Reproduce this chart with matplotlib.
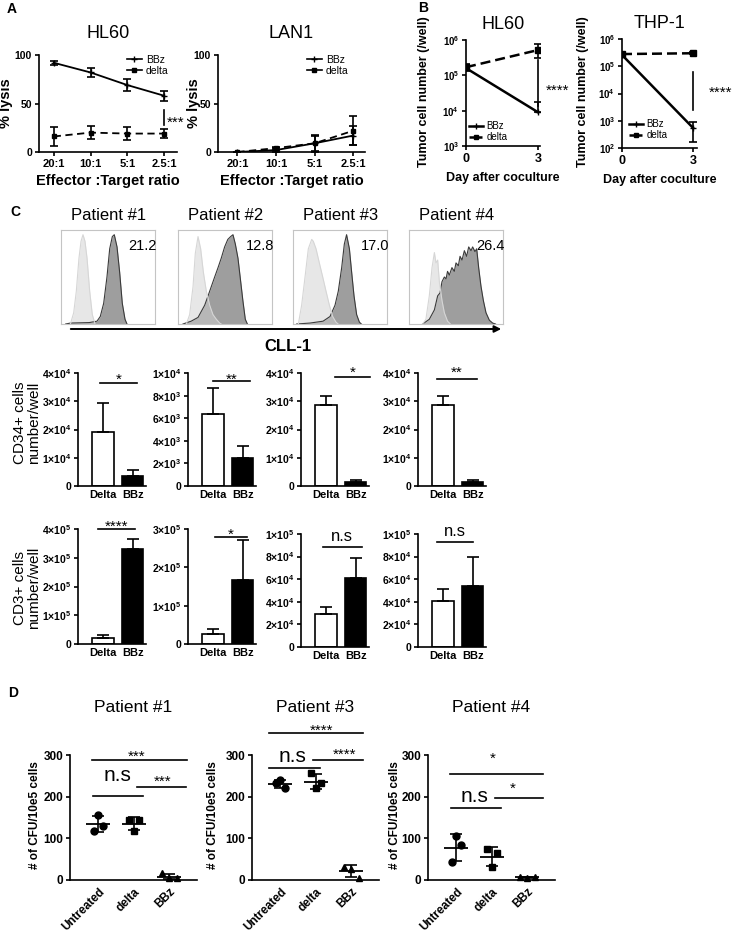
import numpy as np
import matplotlib
matplotlib.use("Agg")
import matplotlib.pyplot as plt
from matplotlib.lines import Line2D
from matplotlib.patches import FancyArrowPatch

plt.rcParams["font.family"] = ["Liberation Sans", "DejaVu Sans"]
plt.rcParams["mathtext.fontset"] = "custom"
plt.rcParams["mathtext.rm"] = "Liberation Sans:bold"
plt.rcParams["mathtext.bf"] = "Liberation Sans:bold"
plt.rcParams["axes.linewidth"] = 1.2
for a in ("xtick", "ytick"):
    plt.rcParams[a + ".major.width"] = 1.2
    plt.rcParams[a + ".major.size"] = 3
    plt.rcParams[a + ".major.pad"] = 2

# --- A: % lysis vs E:T ratio ---
ratios = ["20:1", "10:1", "5:1", "2.5:1"]
hl60_bbz = [92, 82, 69, 58]
hl60_bbz_err = [2, 5, 6, 5]
hl60_delta = [16, 20, 19, 19]
hl60_delta_err = [10, 7, 7, 5]
lan1_bbz = [0, 2, 9, 17]
lan1_bbz_err = [0.5, 2, 8, 10]
lan1_delta = [0, 4, 9, 22]
lan1_delta_err = [0.5, 1.5, 9, 15]

# --- B: tumor cells per well (log) ---
days = [0, 3]
b_hl60_bbz = [1.6e5, 9e3]
b_hl60_bbz_lo = [1.4e5, 9e3]
b_hl60_bbz_hi = [1.9e5, 1.8e4]
b_hl60_delta = [1.7e5, 5.2e5]
b_hl60_delta_lo = [1.3e5, 3.0e5]
b_hl60_delta_hi = [2.1e5, 7.5e5]
b_thp1_bbz = [2.6e5, 5.5e2]
b_thp1_bbz_lo = [2.3e5, 1.7e2]
b_thp1_bbz_hi = [2.9e5, 9.0e2]
b_thp1_delta = [2.8e5, 3.0e5]
b_thp1_delta_lo = [2.6e5, 2.8e5]
b_thp1_delta_hi = [3.0e5, 3.2e5]

# --- C: CLL-1 histograms (x, height in % of box) ---
patients = ["Patient #1", "Patient #2", "Patient #3", "Patient #4"]
cll1_pct = ["21.2", "12.8", "17.0", "26.4"]
p1_ctrl_x = [10, 13.5, 16.3, 19.1, 21.3, 23.4, 25.5, 27.7, 30.5, 33.3, 36.2]
p1_ctrl_y = [0, 12, 35, 70, 88, 95, 88, 70, 35, 10, 0]
p1_cll_x = [5, 10, 30, 38.3, 41.8, 45.4, 48.9, 51.8, 54.6, 56.7, 59.6, 62.4, 65.2, 68.1, 70.2]
p1_cll_y = [0, 1, 1.5, 3, 8, 22, 50, 80, 93, 95, 82, 55, 22, 5, 0]
p2_ctrl_x = [8.9, 12.4, 16, 18.4, 21.3, 24.1, 27, 30.1, 33.7, 37.2, 40.8, 44.3, 46]
p2_ctrl_y = [0, 10, 40, 75, 93, 80, 55, 35, 20, 10, 5, 1, 0]
p2_cll_x = [5.3, 14, 21.3, 28.4, 32, 35.5, 39, 42.6, 46, 49.6, 53, 56, 58.5, 61, 63.8, 66.7, 69, 71.6, 73.8]
p2_cll_y = [0, 3, 7, 20, 30, 40, 50, 60, 70, 82, 90, 93, 95, 85, 70, 45, 25, 5, 0]
p3_ctrl_x = [5.7, 9.2, 12.8, 16.3, 19.9, 21.6, 24.5, 28, 31.6, 35.1, 38.7, 42.2, 45.7, 48]
p3_ctrl_y = [0, 20, 50, 80, 90, 88, 80, 65, 50, 35, 20, 8, 2, 0]
p3_cll_x = [3.9, 18, 32, 39.4, 44.7, 48.2, 51.8, 54.6, 57, 60, 62.4, 64.9, 67.7, 70.6, 72.7]
p3_cll_y = [0, 1, 3, 8, 20, 35, 60, 85, 95, 80, 55, 30, 10, 2, 0]
p4_ctrl_x = [14.5, 18, 21.6, 24.5, 27, 28.7, 30.5, 32.3, 35.1, 37.6, 41, 44]
p4_ctrl_y = [0, 5, 30, 60, 76, 65, 68, 45, 25, 12, 3, 0]
p4_cll_x = [14.5, 21.6, 27, 30.5, 33, 35.1, 37.6, 39.4, 41, 42.9, 45.7, 48.2, 50, 52.5, 54.3,
            56.4, 58.9, 61.3, 63.5, 66, 67.7, 70.2, 72, 74.1, 76.6, 79.1, 81.9, 85.5, 89, 92]
p4_cll_y = [0, 5, 15, 30, 33, 45, 50, 48, 56, 52, 60, 56, 65, 62, 72,
            68, 78, 72, 82, 78, 82, 77, 80, 60, 40, 25, 12, 4, 1, 0]

# --- C: cell counts ---
bar_groups = ["Delta", "BBz"]
cd34_delta = [1.9e4, 6.4e3, 2.85e4, 2.85e4]
cd34_delta_err = [1.03e4, 2.3e3, 3.5e3, 3.5e3]
cd34_bbz = [3.4e3, 2.45e3, 1.3e3, 1.3e3]
cd34_bbz_err = [2.2e3, 1.05e3, 0.8e3, 0.8e3]
cd34_ymax = [4e4, 1e4, 4e4, 4e4]
cd34_step = [1e4, 2e3, 1e4, 1e4]
cd34_sig = ["*", "**", "*", "**"]
cd3_delta = [2.0e4, 2.7e4, 2.9e4, 4.1e4]
cd3_delta_err = [1.0e4, 1.2e4, 0.65e4, 1.0e4]
cd3_bbz = [3.3e5, 1.67e5, 6.1e4, 5.4e4]
cd3_bbz_err = [0.35e5, 1.05e5, 1.75e4, 2.55e4]
cd3_ymax = [4e5, 3e5, 1e5, 1e5]
cd3_step = [1e5, 1e5, 2e4, 2e4]
cd3_sig = ["****", "*", "n.s", "n.s"]

# --- D: CFU per 1e5 cells ---
d_groups = ["Untreated", "delta", "BBz"]
d_titles = ["Patient #1", "Patient #3", "Patient #4"]
d1_untreated = [155, 130, 118]
d1_delta = [144, 144, 118]
d1_bbz = [16, 4, 5]
d3_untreated = [240, 221, 232]
d3_delta = [256, 232, 221]
d3_bbz = [32, 27, 5]
d4_untreated = [106, 83, 43]
d4_delta = [74, 64, 31]
d4_bbz = [8, 6, 7]

# significance annotations: (x0, x1, line y, label centre y) / (..., label, label x, label y)
cd34_ann = [(-0.1, 1.14, 3.65e4, 3.93e4), (0.0, 1.24, 9.3e3, 9.8e3),
            (0.3, 1.48, 3.86e4, 4.18e4), (-0.21, 1.14, 3.8e4, 4.18e4)]
cd3_ann = [(-0.17, 1.08, 4.0e5, 4.24e5), (0.06, 1.14, 2.79e5, 2.97e5),
           (-0.11, 1.21, 8.85e4, 9.73e4), (-0.21, 1.01, 9.3e4, 1.02e5)]
d1_ann = [(-0.18, 2.5, 288, "***", 1.09, 307), (1.09, 2.47, 223, "***", 1.82, 247),
          (-0.15, 1.26, 202, "n.s", 0.55, 250)]
d3_ann = [(-0.32, 2.33, 352, "****", 1.17, 370), (0.92, 2.33, 288, "****", 1.82, 312),
          (-0.32, 1.12, 268, "n.s", 0.35, 295)]
d4_ann = [(-0.18, 2.44, 254, "*", 1.03, 302), (1.09, 2.44, 196, "*", 1.59, 231),
          (-0.15, 1.26, 172, "n.s", 0.52, 200)]

W, H = 732, 932
fig = plt.figure(figsize=(W / 100, H / 100), dpi=100)


def box(l, t, r, b):
    ax = fig.add_axes([l / W, 1 - b / H, (r - l) / W, (b - t) / H])
    ax.spines["top"].set_visible(False)
    ax.spines["right"].set_visible(False)
    return ax


def ftext(x, y, s, **kw):
    fig.text(x / W, 1 - y / H, s, **kw)


def sig_text(ax, x, yc, s, fs):
    # place so the glyphs (not the text box) are centred on yc
    shift = 0.58 * fs if "*" in s else 0.26 * fs
    ax.annotate(s, xy=(x, yc), xytext=(0, -shift), textcoords="offset points",
                ha="center", va="baseline", fontsize=fs, annotation_clip=False)


def legend(ax, handles, labels, x, y, fs):
    ax.legend(handles, labels, loc="upper left", bbox_to_anchor=(x / W, 1 - y / H),
              bbox_transform=fig.transFigure, frameon=False, fontsize=fs, borderpad=0,
              borderaxespad=0, handlelength=1.4, handletextpad=0.4, labelspacing=0.1)


def sci(v):
    if v == 0:
        return "0"
    e = int(np.floor(np.log10(v) + 1e-9))
    return r"$\mathbf{%d{\times}10^{%d}}$" % (round(v / 10 ** e), e)


# ---------------- Panel A ----------------
ftext(12, 9, "A", fontsize=10, fontweight="bold", va="center", ha="center")
ek = dict(color="k", lw=1.3, capsize=3, capthick=1.2, elinewidth=1.2)
h_bbz = Line2D([], [], color="k", lw=1.2, marker="+", ms=5)
h_del = Line2D([], [], color="k", lw=1.2, marker="s", ms=3.5)
a_specs = [("HL60", (39, 55, 177, 152), hl60_bbz, hl60_bbz_err, hl60_delta, hl60_delta_err,
            (-0.4, 3.35), 6, (127, 55)),
           ("LAN1", (218, 55, 365, 152), lan1_bbz, lan1_bbz_err, lan1_delta, lan1_delta_err,
            (-0.5, 3.3), 194, (307, 55))]
for title, rc, bb, bbe, dl, dle, xl, ylx, lg in a_specs:
    ax = box(*rc)
    x = np.arange(len(ratios))
    ax.errorbar(x, bb, yerr=bbe, marker="+", ms=5, **ek)
    ax.errorbar(x, dl, yerr=dle, marker="s", ms=3.5, ls=(0, (4, 2.5)), **ek)
    ax.set_xlim(*xl)
    ax.set_ylim(0, 100)
    ax.set_xticks(x, ratios, fontweight="bold", fontsize=8)
    ax.set_yticks([0, 50, 100], ["0", "50", "100"], fontweight="bold", fontsize=7.5)
    ax.set_title(title, fontsize=13, pad=12)
    ax.set_xlabel("Effector :Target ratio", fontsize=10.5, fontweight="bold", labelpad=4)
    ftext(ylx, 103, "% lysis", rotation=90, fontsize=10.5, fontweight="bold",
          ha="center", va="center")
    legend(ax, [h_bbz, h_del], ["BBz", "delta"], lg[0], lg[1], 7.5)
    if title == "HL60":
        ax.plot([3, 3], [28, 43], color="k", lw=1.2)
        sig_text(ax, 3.3, 35, "***", 11)

# ---------------- Panel B ----------------
ftext(423, 8, "B", fontsize=10, fontweight="bold", va="center", ha="center")
hb_bbz = Line2D([], [], color="k", lw=1.8, marker="+", ms=5)
hb_del = Line2D([], [], color="k", lw=1.8, ls=(0, (2, 1.2)), marker="s", ms=3.5)
b_specs = [("HL60", (466, 40, 540, 146), (1e3, 1e6), 3.08,
            b_hl60_bbz, b_hl60_bbz_lo, b_hl60_bbz_hi,
            b_hl60_delta, b_hl60_delta_lo, b_hl60_delta_hi,
            (1.4e4, 2.7e5), (3.79, 10 ** 4.7), 424, (469, 121)),
           ("THP-1", (622, 39, 697, 148), (1e2, 1e6), 3.17,
            b_thp1_bbz, b_thp1_bbz_lo, b_thp1_bbz_hi,
            b_thp1_delta, b_thp1_delta_lo, b_thp1_delta_hi,
            (2.5e3, 6e4), (4.15, 10 ** 4.2), 583, (629, 119))]
for (title, rc, yl, xr, bb, bblo, bbhi, dl, dllo, dlhi, sl, st, ylx, lg) in b_specs:
    ax = box(*rc)
    ax.set_yscale("log")
    bbe = [np.subtract(bb, bblo), np.subtract(bbhi, bb)]
    dle = [np.subtract(dl, dllo), np.subtract(dlhi, dl)]
    ax.errorbar(days, bb, yerr=bbe, color="k", lw=1.8, marker="+", ms=5,
                capsize=3, capthick=1.2, elinewidth=1.2)
    ax.errorbar(days, dl, yerr=dle, color="k", lw=1.8, ls=(0, (4, 2)), marker="s", ms=4,
                capsize=3, capthick=1.2, elinewidth=1.2)
    ax.set_ylim(*yl)
    ax.set_xlim(0, xr)
    dec = np.arange(int(np.log10(yl[0])), int(np.log10(yl[1])) + 1)
    ax.set_yticks(10.0 ** dec, [r"$\mathbf{10^{%d}}$" % d for d in dec], fontsize=7)
    ax.minorticks_off()
    ax.set_xticks(days, [str(d) for d in days], fontweight="bold", fontsize=9)
    ax.set_title(title, fontsize=13, pad=8)
    ax.set_xlabel("Day after coculture", fontsize=9, fontweight="bold", labelpad=5)
    ftext(ylx, 92, "Tumor cell number (/well)", rotation=90, fontsize=9, fontweight="bold",
          ha="center", va="center")
    ax.plot([3, 3], sl, color="k", lw=1.2, clip_on=False)
    sig_text(ax, st[0], st[1], "****", 11)
    legend(ax, [hb_bbz, hb_del], ["BBz", "delta"], lg[0], lg[1], 7)

# ---------------- Panel C: histograms ----------------
ftext(15, 212, "C", fontsize=10, fontweight="bold", va="center", ha="center")
hist_lefts = [61, 178, 293, 409]
ctrl_curves = [(p1_ctrl_x, p1_ctrl_y), (p2_ctrl_x, p2_ctrl_y), (p3_ctrl_x, p3_ctrl_y), (p4_ctrl_x, p4_ctrl_y)]
cll_curves = [(p1_cll_x, p1_cll_y), (p2_cll_x, p2_cll_y), (p3_cll_x, p3_cll_y), (p4_cll_x, p4_cll_y)]
for i, l in enumerate(hist_lefts):
    ax = fig.add_axes([l / W, 1 - 324 / H, 94 / W, 94 / H])
    cx, cy = cll_curves[i]
    kx, ky = ctrl_curves[i]
    ax.fill_between(cx, cy, color="#9e9e9e", lw=0)
    ax.plot(cx, cy, color="#3a3a3a", lw=0.8)
    ax.fill_between(kx, ky, color="#d0d0d0", alpha=0.5, lw=0)
    ax.plot(kx, ky, color="#d6d6d6", lw=0.8)
    ax.set_xlim(0, 100)
    ax.set_ylim(0, 100)
    ax.set_xticks([])
    ax.set_yticks([])
    for s in ax.spines.values():
        s.set_color("#c4c4c4")
        s.set_linewidth(0.8)
    ax.text(1.02, 0.83, cll1_pct[i], transform=ax.transAxes, ha="right", va="center",
            fontsize=10.5)
    ftext(l + 48, 215, patients[i], fontsize=12, ha="center", va="center")

fig.add_artist(FancyArrowPatch((68 / W, 1 - 329 / H), (504 / W, 1 - 329 / H),
                               transform=fig.transFigure, arrowstyle="-|>",
                               mutation_scale=10, color="k", lw=1.4))
ftext(288, 347, "CLL-1", fontsize=12, fontweight="bold", ha="center", va="center")

# ---------------- Panel C: bars ----------------
bar_lefts = [78, 188, 301, 418]
rows = [(cd34_delta, cd34_delta_err, cd34_bbz, cd34_bbz_err, cd34_ymax, cd34_step, cd34_sig,
         cd34_ann, [(373, 486)] * 4, "CD34+ cells\nnumber/well", 423),
        (cd3_delta, cd3_delta_err, cd3_bbz, cd3_bbz_err, cd3_ymax, cd3_step, cd3_sig,
         cd3_ann, [(529, 644), (529, 644), (534, 647), (534, 647)], "CD3+ cells\nnumber/well", 588)]
for (dv, de, bv, be, ymax, step, sig, ann, tb, ylab, ylc) in rows:
    for i, l in enumerate(bar_lefts):
        ax = box(l, tb[i][0], l + 68, tb[i][1])
        x = np.arange(2)
        ax.bar(x, [dv[i], bv[i]], width=0.72, color=["white", "black"], edgecolor="k",
               lw=1.2, zorder=2)
        ax.errorbar(x, [dv[i], bv[i]], yerr=[[0, 0], [de[i], be[i]]], fmt="none",
                    ecolor="k", elinewidth=1.2, capsize=4.5, capthick=1.2, zorder=3)
        ax.set_xlim(-0.85, 1.45)
        ax.set_ylim(0, ymax[i])
        ticks = np.arange(0, ymax[i] + step[i] / 2, step[i])
        ax.set_yticks(ticks, [sci(t) for t in ticks], fontsize=7.5, fontweight="bold")
        ax.set_xticks(x, bar_groups, fontsize=8, fontweight="bold")
        ax.tick_params(axis="x", length=0, pad=3)
        x0, x1, yline, ytxt = ann[i]
        ax.plot([x0, x1], [yline, yline], color="k", lw=1.2, clip_on=False)
        sig_text(ax, (x0 + x1) / 2, ytxt, sig[i], 12 if sig[i] == "n.s" else 11)
    ftext(27, ylc, ylab, rotation=90, fontsize=11, ha="center", va="center",
          linespacing=1.0)

# ---------------- Panel D ----------------
ftext(13, 693, "D", fontsize=10, fontweight="bold", va="center", ha="center")
d_lefts = [70, 252, 428]
d_sets = [(d1_untreated, d1_delta, d1_bbz), (d3_untreated, d3_delta, d3_bbz),
          (d4_untreated, d4_delta, d4_bbz)]
d_anns = [d1_ann, d3_ann, d4_ann]
d_ylabel_x = [35, 213, 395]
markers = ["o", "s", "^"]
jitter = [[0.0, 0.13, -0.11], [-0.14, 0.14, 0.0], [-0.2, 0.0, 0.22]]
for j, l in enumerate(d_lefts):
    ax = box(l, 755, l + 127, 880)
    for g, vals in enumerate(d_sets[j]):
        m = np.mean(vals)
        sd = np.std(vals, ddof=1)
        ax.plot(g + np.array(jitter[g]), vals, ls="none", marker=markers[g], ms=5,
                color="k", clip_on=False, zorder=3)
        ax.hlines(m, g - 0.34, g + 0.34, color="k", lw=1.3)
        ax.errorbar(g, m, yerr=sd, fmt="none", ecolor="k", elinewidth=1.2, capsize=4.5,
                    capthick=1.2)
    ax.set_xlim(-0.8, 2.78)
    ax.set_ylim(0, 300)
    ax.set_yticks([0, 100, 200, 300], ["0", "100", "200", "300"], fontsize=8.5,
                  fontweight="bold")
    ax.set_xticks(range(3), d_groups, fontsize=8.5, fontweight="bold", rotation=45,
                  ha="right", rotation_mode="anchor")
    ax.tick_params(axis="x", length=0, pad=4)
    ax.set_title(d_titles[j], fontsize=12.5, pad=31)
    for x0, x1, yl, s, tx, ty in d_anns[j]:
        ax.plot([x0, x1], [yl, yl], color="k", lw=1.2, clip_on=False)
        sig_text(ax, tx, ty, s, 15 if s == "n.s" else 11)
    ftext(d_ylabel_x[j], 815, "# of CFU/10e5 cells", rotation=90, fontsize=8.5,
          fontweight="bold", ha="center", va="center")

fig.savefig("out.png", dpi=100)
